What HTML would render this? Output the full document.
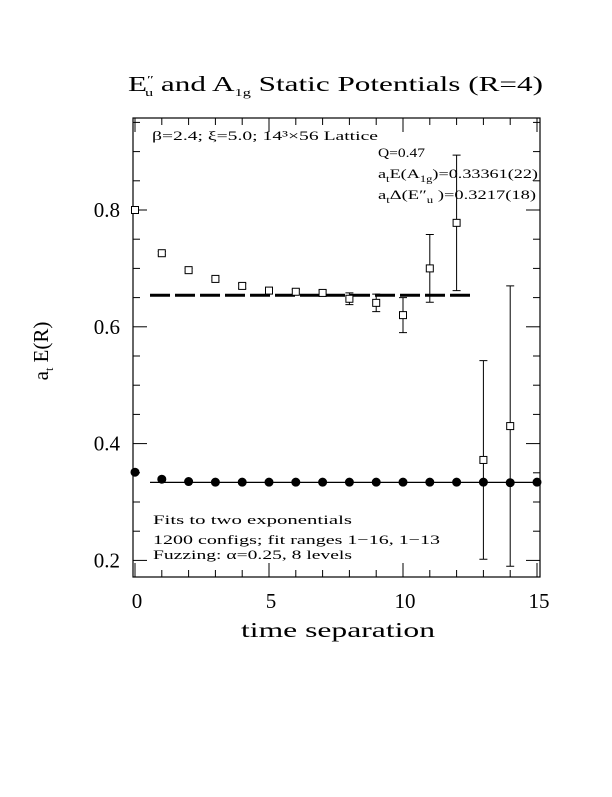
<!DOCTYPE html>
<html><head><meta charset="utf-8"><style>
body{margin:0;background:#fff;}
svg text{font-family:"Liberation Serif",serif;fill:#000;}
</style></head><body>
<svg id="chart" width="612" height="792" viewBox="0 0 612 792" xmlns="http://www.w3.org/2000/svg">
<text x="128" y="91" font-size="21" textLength="415" lengthAdjust="spacingAndGlyphs">E<tspan font-size="11" dy="-8">″</tspan><tspan font-size="11" dx="-6" dy="13">u</tspan><tspan dy="-5">  and A</tspan><tspan font-size="11" dy="5">1g</tspan><tspan dy="-5"> Static Potentials (R=4)</tspan></text>
<rect x="133" y="118" width="407" height="459" fill="none" stroke="#000" stroke-width="1.2"/>
<g id="ticks"></g>
<g id="marks"></g>
<text transform="translate(48,351) rotate(-90)" font-size="21" text-anchor="middle">a<tspan font-size="12" dy="5">t</tspan><tspan dy="-5"> E(R)</tspan></text>
<text x="241" y="637" font-size="21" textLength="194" lengthAdjust="spacingAndGlyphs">time separation</text>
<text x="152" y="140" font-size="13" textLength="226" lengthAdjust="spacingAndGlyphs">β=2.4; ξ=5.0; 14³×56 Lattice</text>
<text x="378" y="157" font-size="13" textLength="47" lengthAdjust="spacingAndGlyphs">Q=0.47</text>
<text x="378" y="178" font-size="13" textLength="160" lengthAdjust="spacingAndGlyphs">a<tspan font-size="9" dy="4">t</tspan><tspan dy="-4">E(A</tspan><tspan font-size="9" dy="4">1g</tspan><tspan dy="-4">)=0.33361(22)</tspan></text>
<text x="378" y="199" font-size="13" textLength="158" lengthAdjust="spacingAndGlyphs">a<tspan font-size="9" dy="4">t</tspan><tspan dy="-4">Δ(E″</tspan><tspan font-size="9" dy="4">u</tspan><tspan dy="-4"> )=0.3217(18)</tspan></text>
<text x="153" y="524" font-size="13" textLength="199" lengthAdjust="spacingAndGlyphs">Fits to two exponentials</text>
<text x="153" y="544" font-size="13" textLength="287" lengthAdjust="spacingAndGlyphs">1200 configs; fit ranges 1−16, 1−13</text>
<text x="153" y="559" font-size="13" textLength="199" lengthAdjust="spacingAndGlyphs">Fuzzing: α=0.25, 8 levels</text>
</svg>
<script>
const xTicks=[0,5,10,15];
const yTicks=[0.2,0.4,0.6,0.8];
const euT=[0,1,2,3,4,5,6,7,8,9,10,11,12,13,14];
const euE=[0.800,0.726,0.697,0.682,0.670,0.662,0.660,0.658,0.648,0.641,0.620,0.700,0.778,0.372,0.430];
const euErr=[0.002,0.003,0.003,0.003,0.004,0.004,0.004,0.005,0.010,0.015,0.030,0.058,0.116,0.170,0.240];
const a1T=[0,1,2,3,4,5,6,7,8,9,10,11,12,13,14,15];
const a1E=[0.351,0.339,0.335,0.334,0.334,0.334,0.334,0.334,0.334,0.334,0.334,0.334,0.334,0.334,0.333,0.334];
const euFit=[0.654,0.56,12.5];
const a1Fit=[0.3336,0.56,15];
const X=t=>135+t*26.8;
const Y=v=>210+(0.8-v)*584;
const NS="http://www.w3.org/2000/svg";
function mk(tag,at,parent){const e=document.createElementNS(NS,tag);for(const k in at)e.setAttribute(k,at[k]);parent.appendChild(e);return e;}
const tg=document.getElementById('ticks'),mg=document.getElementById('marks');
for(let t=0;t<=15;t++){const big=t%5===0;
 const a=mk('line',{x1:X(t),x2:X(t),y1:577,y2:577-(big?14:7),stroke:'#000'},tg);
 
 const b=mk('line',{x1:X(t),x2:X(t),y1:118,y2:118+(big?14:7),stroke:'#000'},tg);
 }
xTicks.forEach(t=>{const e=mk('text',{x:X(t)+2,y:608,'font-size':21,'text-anchor':'middle'},tg);e.textContent=String(t);
 });
for(let i=0;i<=15;i++){const v=0.2+i*0.05;const y=Y(v);if(y<118||y>577)continue;const big=i%4===0;
 const a=mk('line',{x1:133,x2:133+(big?14:7),y1:y,y2:y,stroke:'#000'},tg);
 
 const b=mk('line',{x1:540,x2:540-(big?14:7),y1:y,y2:y,stroke:'#000'},tg);
 }
yTicks.forEach(v=>{const e=mk('text',{x:120,y:Y(v)+7,'font-size':21,'text-anchor':'end'},tg);e.textContent=v.toFixed(1);
 });
const f1=mk('line',{x1:X(euFit[1]),x2:X(euFit[2]),y1:Y(euFit[0]),y2:Y(euFit[0]),stroke:'#000','stroke-width':3,'stroke-dasharray':'20 5'},mg);

const f2=mk('line',{x1:X(a1Fit[1]),x2:X(a1Fit[2]),y1:Y(a1Fit[0]),y2:Y(a1Fit[0]),stroke:'#000','stroke-width':1.2},mg);

euT.forEach((t,i)=>{const x=X(t),v=euE[i],er=euErr[i];
 const l=mk('path',{d:`M${x},${Y(v+er)}V${Y(v-er)}M${x-4},${Y(v+er)}H${x+4}M${x-4},${Y(v-er)}H${x+4}`,stroke:'#000',fill:'none'},mg);
 
 const r=mk('rect',{x:x-3.5,y:Y(v)-3.5,width:7,height:7,fill:'#fff',stroke:'#000'},mg);
 });
a1T.forEach((t,i)=>{const c=mk('circle',{cx:X(t),cy:Y(a1E[i]),r:4.5,fill:'#000'},mg);
 });
</script>
</body></html>
